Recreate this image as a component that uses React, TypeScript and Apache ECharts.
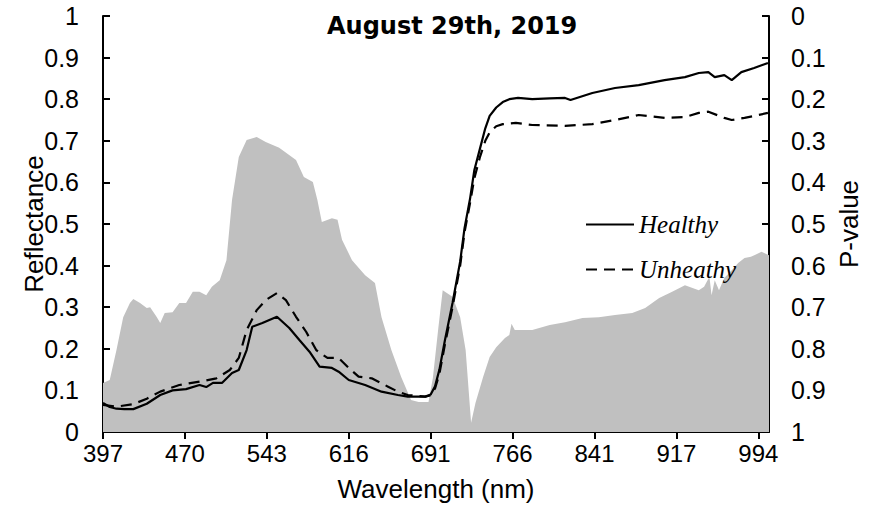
import React, { useEffect, useRef } from "react";
import * as echarts from "echarts";

// Tick wavelengths (evenly spaced on the axis, as in the reference)
const tickWavelengths = [397, 470, 543, 616, 691, 766, 841, 917, 994];
const xTickLabels = ["397", "470", "543", "616", "691", "766", "841", "917", "994"];
const yLeftLabels = ["0", "0.1", "0.2", "0.3", "0.4", "0.5", "0.6", "0.7", "0.8", "0.9", "1"];
const yRightLabels = ["0", "0.1", "0.2", "0.3", "0.4", "0.5", "0.6", "0.7", "0.8", "0.9", "1"];
const X_END_WL = 1004;

// [wavelength nm, reflectance]
const healthy: [number, number][] = [
  [397, 0.07], [403, 0.06], [409, 0.056], [416, 0.055], [424, 0.055], [436, 0.068],
  [448, 0.089], [459, 0.1], [471, 0.103], [483, 0.113], [489, 0.108], [495, 0.118],
  [503, 0.118], [512, 0.142], [518, 0.149], [525, 0.197], [530, 0.253], [539, 0.262],
  [552, 0.277], [563, 0.25], [572, 0.221], [581, 0.193], [590, 0.157], [601, 0.154],
  [607, 0.145], [616, 0.125], [631, 0.113], [646, 0.097], [661, 0.089], [670, 0.085],
  [686, 0.085], [691, 0.09], [695, 0.11], [699, 0.15], [704, 0.22], [711, 0.31],
  [718, 0.41], [722, 0.49], [727, 0.56], [731, 0.63], [736, 0.68], [741, 0.73],
  [745, 0.76], [751, 0.78], [757, 0.793], [763, 0.8], [771, 0.803], [784, 0.8],
  [800, 0.802], [814, 0.803], [819, 0.798], [839, 0.815], [860, 0.827], [882, 0.834],
  [906, 0.846], [925, 0.853], [938, 0.863], [947, 0.865], [953, 0.853], [962, 0.858],
  [969, 0.846], [978, 0.865], [990, 0.875], [1003, 0.887],
];

const unhealthy: [number, number][] = [
  [397, 0.065], [409, 0.061], [424, 0.067], [436, 0.08], [448, 0.097], [465, 0.113],
  [483, 0.121], [498, 0.129], [510, 0.149], [518, 0.178], [525, 0.245], [534, 0.293],
  [542, 0.317], [552, 0.334], [560, 0.317], [569, 0.277], [578, 0.241], [587, 0.197],
  [597, 0.178], [607, 0.178], [616, 0.154], [625, 0.133], [637, 0.129], [652, 0.109],
  [661, 0.097], [670, 0.089], [686, 0.085], [691, 0.088], [695, 0.105], [699, 0.14],
  [704, 0.21], [711, 0.3], [718, 0.4], [722, 0.48], [727, 0.55], [731, 0.61],
  [736, 0.66], [741, 0.7], [745, 0.72], [751, 0.735], [757, 0.74], [769, 0.743],
  [784, 0.738], [814, 0.736], [839, 0.74], [860, 0.75], [882, 0.762], [906, 0.755],
  [925, 0.757], [938, 0.767], [947, 0.77], [962, 0.755], [969, 0.75], [981, 0.755],
  [1003, 0.767],
];

// [wavelength nm, P-value]
const pValue: [number, number][] = [
  [397, 0.882], [403, 0.875], [409, 0.803], [415, 0.724], [421, 0.69], [424, 0.68],
  [430, 0.69], [436, 0.702], [439, 0.7], [445, 0.724], [448, 0.738], [452, 0.714],
  [459, 0.712], [465, 0.69], [471, 0.69], [477, 0.663], [483, 0.663], [489, 0.671],
  [494, 0.651], [501, 0.635], [507, 0.587], [512, 0.442], [518, 0.339], [525, 0.298],
  [534, 0.291], [542, 0.303], [554, 0.317], [569, 0.346], [576, 0.387], [584, 0.399],
  [588, 0.442], [592, 0.495], [601, 0.486], [606, 0.49], [610, 0.538], [619, 0.587],
  [631, 0.623], [640, 0.642], [646, 0.724], [655, 0.803], [664, 0.868], [673, 0.923],
  [680, 0.928], [689, 0.928], [693, 0.87], [698, 0.75], [702, 0.659], [711, 0.675],
  [718, 0.724], [723, 0.803], [728, 0.978], [732, 0.93], [739, 0.868], [745, 0.82],
  [751, 0.796], [759, 0.774], [763, 0.767], [765, 0.74], [768, 0.755], [784, 0.755],
  [800, 0.743], [814, 0.736], [830, 0.726], [845, 0.724], [860, 0.719], [876, 0.714],
  [888, 0.702], [901, 0.678], [913, 0.663], [925, 0.647], [938, 0.659], [943, 0.651],
  [948, 0.627], [950, 0.671], [953, 0.635], [957, 0.659], [962, 0.63], [969, 0.611],
  [975, 0.594], [981, 0.582], [987, 0.579], [997, 0.567], [1004, 0.575],
];

// Map wavelength onto the evenly spaced tick positions of the axis
function toPos(w: number): number {
  const W = tickWavelengths;
  if (w <= W[0]) return (w - W[0]) / (W[1] - W[0]);
  for (let i = 0; i < W.length - 1; i++) {
    if (w <= W[i + 1]) return i + (w - W[i]) / (W[i + 1] - W[i]);
  }
  const n = W.length - 1;
  return n + (w - W[n]) / (W[n] - W[n - 1]);
}

export default function App() {
  const ref = useRef<HTMLDivElement>(null);

  useEffect(() => {
    if (!ref.current) return;
    const chart = echarts.init(ref.current, undefined, { renderer: "svg" });
    const black = "#000";
    const sans = "'Liberation Sans', Arial, sans-serif";
    const axisLine = { color: black, width: 2 };
    const tickPositions = tickWavelengths.map((_, i) => i);
    const xMax = toPos(X_END_WL);

    chart.setOption({
      animation: false,
      backgroundColor: "#fff",
      title: {
        text: "August 29th, 2019",
        left: 327,
        top: 14,
        padding: 0,
        textStyle: { fontFamily: "'DejaVu Sans', sans-serif", fontWeight: "bold", fontSize: 24, color: black },
      },
      legend: {
        data: ["Healthy", "Unheathy"],
        orient: "vertical",
        left: 585,
        top: 212,
        padding: 0,
        itemWidth: 48,
        itemHeight: 25,
        itemGap: 20,
        itemStyle: { opacity: 0 },
        textStyle: { fontFamily: "'Liberation Serif', 'Times New Roman', serif", fontStyle: "italic", fontSize: 25, color: black },
      },
      grid: { left: 103, right: 97, top: 16, bottom: 77, containLabel: false },
      xAxis: [
        {
          type: "value",
          position: "bottom",
          min: 0,
          max: xMax,
          axisLine: { show: true, onZero: false, lineStyle: axisLine },
          axisTick: { show: true, inside: true, length: 7, lineStyle: axisLine, customValues: tickPositions },
          axisLabel: {
            customValues: tickPositions,
            formatter: (v: number) => xTickLabels[Math.round(v)] ?? "",
            margin: 9,
            fontSize: 24,
            fontFamily: sans,
            color: black,
          },
          splitLine: { show: false },
          name: "Wavelength (nm)",
          nameLocation: "middle",
          nameGap: 44,
          nameMoveOverlap: false,
          nameTextStyle: { fontSize: 26, fontFamily: sans, color: black },
        },
        {
          type: "value",
          position: "bottom",
          min: 0,
          max: xMax,
          axisLine: { show: false, onZero: false },
          axisTick: { show: true, inside: false, length: 7, lineStyle: axisLine, customValues: tickPositions },
          axisLabel: { show: false },
          splitLine: { show: false },
        },
      ],
      yAxis: [
        {
          type: "value",
          position: "left",
          min: 0,
          max: 1,
          interval: 0.1,
          axisLine: { show: true, onZero: false, lineStyle: axisLine },
          axisTick: { show: true, inside: true, length: 7, lineStyle: axisLine },
          axisLabel: {
            formatter: (v: number) => yLeftLabels[Math.round(v * 10)] ?? "",
            margin: 24,
            fontSize: 25,
            fontFamily: sans,
            color: black,
          },
          splitLine: { show: false },
          name: "Reflectance",
          nameLocation: "middle",
          nameGap: 56,
          nameMoveOverlap: false,
          nameTextStyle: { fontSize: 26, fontFamily: sans, color: black },
        },
        {
          type: "value",
          position: "right",
          min: 0,
          max: 1,
          interval: 0.1,
          inverse: true,
          axisLine: { show: true, onZero: false, lineStyle: axisLine },
          axisTick: { show: true, inside: true, length: 7, lineStyle: axisLine },
          axisLabel: {
            formatter: (v: number) => yRightLabels[Math.round(v * 10)] ?? "",
            margin: 22,
            fontSize: 25,
            fontFamily: sans,
            color: black,
          },
          splitLine: { show: false },
          name: "P-value",
          nameLocation: "middle",
          nameGap: 67,
          nameMoveOverlap: false,
          nameTextStyle: { fontSize: 26, fontFamily: sans, color: black },
        },
      ],
      series: [
        {
          name: "P-value",
          type: "line",
          xAxisIndex: 0,
          yAxisIndex: 1,
          data: pValue.map(([w, p]) => [toPos(w), p]),
          symbol: "none",
          silent: true,
          lineStyle: { width: 0, color: "#c0c0c0" },
          areaStyle: { color: "#c0c0c0", opacity: 1, origin: "end" },
          z: 1,
        },
        {
          name: "Healthy",
          type: "line",
          xAxisIndex: 0,
          yAxisIndex: 0,
          data: healthy.map(([w, v]) => [toPos(w), v]),
          symbol: "none",
          lineStyle: { color: black, width: 2.2, type: "solid" },
          itemStyle: { color: black },
          z: 3,
        },
        {
          name: "Unheathy",
          type: "line",
          xAxisIndex: 0,
          yAxisIndex: 0,
          data: unhealthy.map(([w, v]) => [toPos(w), v]),
          symbol: "none",
          lineStyle: { color: black, width: 2.2, type: [11, 7] },
          itemStyle: { color: black },
          z: 3,
        },
      ],
    });

    return () => chart.dispose();
  }, []);

  return (
    <div
      ref={ref}
      style={{ position: "fixed", left: 0, top: 0, width: 870, height: 509, background: "#fff" }}
    />
  );
}
